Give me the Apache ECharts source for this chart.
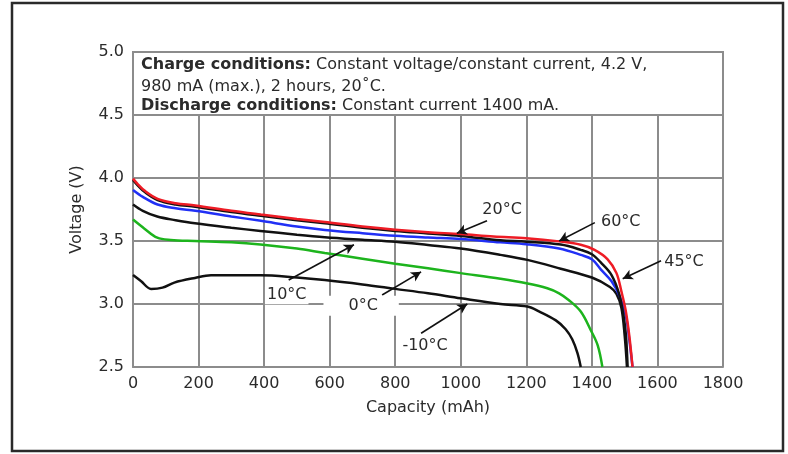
<!DOCTYPE html>
<html><head><meta charset="utf-8">
<script src="https://cdn.jsdelivr.net/npm/echarts@6/dist/echarts.min.js"></script>
<style>html,body{margin:0;padding:0;background:#fff}#c{width:788px;height:454px}</style>
</head><body><div id="c"></div>
<script>
// Capacity (mAh), Voltage (V) pairs per curve
const curveRed = [[0,3.995],[15,3.95],[35,3.9],[75,3.835],[130,3.8],[190,3.782],[300,3.74],[390,3.71],[500,3.675],[585,3.65],[700,3.615],[800,3.59],[900,3.57],[1000,3.555],[1100,3.535],[1200,3.522],[1300,3.497],[1366,3.47],[1408,3.43],[1448,3.355],[1475,3.245],[1490,3.1],[1503,2.95],[1514,2.75],[1524,2.5]];
const curveBlue = [[0,3.905],[30,3.85],[75,3.79],[130,3.76],[190,3.74],[300,3.695],[390,3.66],[500,3.615],[585,3.588],[700,3.562],[800,3.542],[900,3.528],[1000,3.516],[1120,3.49],[1200,3.475],[1300,3.44],[1366,3.39],[1400,3.355],[1427,3.275],[1460,3.18],[1485,3.06],[1504,2.9],[1514,2.72],[1524,2.5]];
const curveBlackHigh = [[0,3.985],[15,3.94],[35,3.89],[75,3.825],[130,3.79],[190,3.772],[300,3.73],[390,3.7],[500,3.665],[585,3.64],[700,3.605],[800,3.58],[900,3.56],[1000,3.54],[1121,3.505],[1200,3.495],[1305,3.472],[1366,3.43],[1400,3.395],[1427,3.33],[1460,3.23],[1483,3.08],[1497,2.9],[1504,2.75],[1509,2.5]];
const curveBlack10 = [[0,3.79],[30,3.74],[74,3.694],[130,3.665],[189,3.64],[300,3.605],[389,3.58],[500,3.55],[585,3.53],[700,3.51],[800,3.494],[900,3.468],[1000,3.44],[1121,3.39],[1203,3.35],[1305,3.28],[1400,3.21],[1455,3.135],[1475,3.08],[1490,2.97],[1500,2.75],[1507,2.5]];
const curveGreen = [[0,3.67],[34,3.6],[74,3.526],[115,3.508],[189,3.5],[300,3.49],[389,3.473],[500,3.44],[585,3.405],[700,3.36],[800,3.32],[900,3.283],[1000,3.245],[1121,3.2],[1200,3.165],[1264,3.125],[1300,3.085],[1330,3.03],[1366,2.94],[1397,2.79],[1418,2.67],[1432,2.5]];
const curveBlackLow = [[0,3.23],[25,3.18],[55,3.12],[90,3.13],[126,3.17],[189,3.207],[238,3.228],[389,3.228],[500,3.21],[585,3.19],[700,3.155],[800,3.12],[900,3.085],[1000,3.045],[1121,3.0],[1203,2.98],[1240,2.94],[1290,2.87],[1320,2.8],[1340,2.72],[1356,2.61],[1366,2.5]];

const tagNames = ['20°C','60°C','45°C','10°C','0°C','-10°C'];
const tagPos = [[1126,3.748],[1488,3.654],[1681,3.335],[469,3.07],[696,2.987],[891,2.664]];
const arrowTail = [[1080,3.66],[1409,3.646],[1611,3.343],[475,3.19],[760,3.071],[879,2.768]];
const arrowTip = [[988,3.561],[1300,3.5],[1494,3.2],[674,3.47],[879,3.255],[1020,3.0]];
const boxCorners = [[0,4.5],[1800,5.0]];
const boxText = '{b|Charge conditions:}{r| Constant voltage/constant current, 4.2 V,}\n{r|980 mA (max.), 2 hours, 20˚C.}\n{b3|Discharge conditions:}{r3| Constant current 1400 mA.}';

const FONT = 'DejaVu Sans';
const GRID = '#8c8c8c';
const TXT = '#2b2b2b';
const chart = echarts.init(document.getElementById('c'));

function curve(name, data, color) {
  return {type:'line', name, data, smooth:0.35, showSymbol:false, symbol:'none',
    lineStyle:{color, width:2.5}, z:2, silent:true};
}

const tagData = tagNames.map((n,i)=>({value:tagPos[i], name:n,
  label: n==='0°C' ? {padding:[2,21,2,25]} : {}}));

chart.setOption({
  animation:false,
  backgroundColor:'#fff',
  grid:{left:133, right:65, top:52, bottom:87},
  xAxis:{type:'value', min:0, max:1800, interval:200,
    name:'Capacity (mAh)', nameLocation:'middle', nameGap:33,
    nameTextStyle:{fontFamily:FONT, fontSize:16, color:TXT},
    axisLine:{show:true, lineStyle:{color:GRID, width:2}},
    axisTick:{show:false},
    axisLabel:{fontFamily:FONT, fontSize:16, color:TXT, margin:9, formatter:v=>String(v)},
    splitLine:{show:true, lineStyle:{color:GRID, width:2}}},
  yAxis:{type:'value', min:2.5, max:5.0, interval:0.5,
    name:'Voltage (V)', nameLocation:'middle', nameGap:48, nameRotate:90,
    nameTextStyle:{fontFamily:FONT, fontSize:16, color:TXT},
    axisLine:{show:true, lineStyle:{color:GRID, width:2}},
    axisTick:{show:false},
    axisLabel:{fontFamily:FONT, fontSize:16, color:TXT, margin:9, formatter:v=>v.toFixed(1)},
    splitLine:{show:true, lineStyle:{color:GRID, width:2}}},
  series:[
    curve('-10°C', curveBlackLow, '#111'),
    curve('0°C', curveGreen, '#1db41d'),
    curve('10°C', curveBlack10, '#111'),
    curve('blue', curveBlue, '#2130f5'),
    curve('black', curveBlackHigh, '#111'),
    curve('red', curveRed, '#ee1c25'),
    {type:'scatter', name:'tags', data:tagData, symbolSize:0, z:5, silent:true,
      itemStyle:{opacity:1},
      label:{show:true, position:'inside', formatter:p=>p.name, fontFamily:FONT, fontSize:16,
        color:TXT, opacity:1, backgroundColor:'#fff', padding:[1,2]},
      markLine:{silent:true, symbol:['none','arrow'], symbolSize:[8,10], animation:false,
        lineStyle:{color:'#111', width:1.6, type:'solid', opacity:1}, label:{show:false},
        data: arrowTail.map((t,i)=>[{coord:t},{coord:arrowTip[i]}])}
    },
  ]
});

const p0 = chart.convertToPixel({gridIndex:0}, boxCorners[0]);
const p1 = chart.convertToPixel({gridIndex:0}, boxCorners[1]);
const rs = (w, lh) => ({fontFamily:FONT, fontWeight:w, fontSize:16, fill:TXT, color:TXT, lineHeight:lh});
chart.setOption({graphic:[
  {type:'rect', shape:{x:12, y:3, width:771, height:448}, silent:true,
    style:{fill:'none', stroke:'#2a2a2a', lineWidth:2.5}, z:100},
  {type:'rect', shape:{x:p0[0], y:p1[1], width:p1[0]-p0[0], height:p0[1]-p1[1]}, silent:true,
    style:{fill:'#fff', stroke:GRID, lineWidth:2}, z:50},
  {type:'text', x:p0[0]+8, y:p1[1]+2, silent:true, z:51,
    style:{text:boxText, fill:TXT, font:'16px "DejaVu Sans"',
      rich:{b:rs('bold',22), r:rs('normal',22), b3:rs('bold',16), r3:rs('normal',16)}}}
]});
</script></body></html>
